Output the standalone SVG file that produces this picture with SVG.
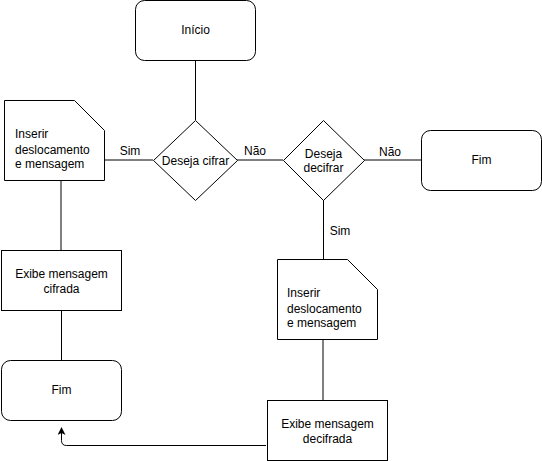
<svg xmlns="http://www.w3.org/2000/svg" width="542" height="461" viewBox="0 0 542 461">
<style>
.s{fill:#fff;stroke:#000;stroke-width:1}
.c{fill:none;stroke:#000;stroke-width:1}
text{font-family:"Liberation Sans",Arial,sans-serif;font-size:12px;fill:#000}
.m{text-anchor:middle}
</style>
<defs>
<marker id="ah" markerWidth="10" markerHeight="10" refX="7" refY="4" orient="auto" markerUnits="userSpaceOnUse">
<path d="M0,0 L8,4 L0,8 L2,4 Z" fill="#000"/>
</marker>
</defs>
<rect width="542" height="461" fill="#fff"/>
<g id="connectors">
<path class="c" d="M195.5,60 V120"/>
<path class="c" d="M153,160 H104"/>
<path class="c" d="M237,160 H283"/>
<path class="c" d="M364,160 H421"/>
<path class="c" d="M323.5,200 V260"/>
<path class="c" d="M323,340 V400"/>
<path class="c" d="M61,180 V250"/>
<path class="c" d="M61.5,310 V360"/>
<path class="c" d="M266,445.5 H66.5 Q61.5,445.5 61.5,440.5 V428" marker-end="url(#ah)"/>
<text x="130" y="155" class="m">Sim</text>
<text x="255" y="155" class="m">Não</text>
<text x="390" y="156" class="m">Não</text>
<text x="340" y="235" class="m">Sim</text>
</g>
<g id="inicio">
<rect class="s" x="135.5" y="0.5" width="120" height="60" rx="9"/>
<text x="195.5" y="34" class="m">Início</text>
</g>
<g id="deseja-cifrar">
<path class="s" d="M195.5,120.5 L237.5,160.5 L195.5,200.5 L153.5,160.5 Z"/>
<text x="195.5" y="165" class="m">Deseja cifrar</text>
</g>
<g id="inserir1">
<path class="s" d="M4.5,100.5 H74.5 L104.5,130.5 V180.5 H4.5 Z"/>
<text x="15" y="138">Inserir</text>
<text x="15" y="154">deslocamento</text>
<text x="15" y="168">e mensagem</text>
</g>
<g id="exibe-cifrada">
<rect class="s" x="1.5" y="250.5" width="120" height="60"/>
<text x="61.5" y="278" class="m">Exibe mensagem</text>
<text x="61.5" y="293" class="m">cifrada</text>
</g>
<g id="fim1">
<rect class="s" x="1.5" y="360.5" width="120" height="60" rx="9"/>
<text x="61.5" y="394" class="m">Fim</text>
</g>
<g id="deseja-decifrar">
<path class="s" d="M323.5,120.5 L364.5,160.5 L323.5,200.5 L283.5,160.5 Z"/>
<text x="323.5" y="158" class="m">Deseja</text>
<text x="323.5" y="172" class="m">decifrar</text>
</g>
<g id="fim2">
<rect class="s" x="421.5" y="130.5" width="120" height="60" rx="9"/>
<text x="481.5" y="164" class="m">Fim</text>
</g>
<g id="inserir2">
<path class="s" d="M277.5,259.5 H347.5 L377.5,289.5 V339.5 H277.5 Z"/>
<text x="287" y="297">Inserir</text>
<text x="287" y="313">deslocamento</text>
<text x="287" y="327">e mensagem</text>
</g>
<g id="exibe-decifrada">
<rect class="s" x="267.5" y="400.5" width="120" height="60"/>
<text x="327.5" y="428" class="m">Exibe mensagem</text>
<text x="327.5" y="443" class="m">decifrada</text>
</g>
</svg>
